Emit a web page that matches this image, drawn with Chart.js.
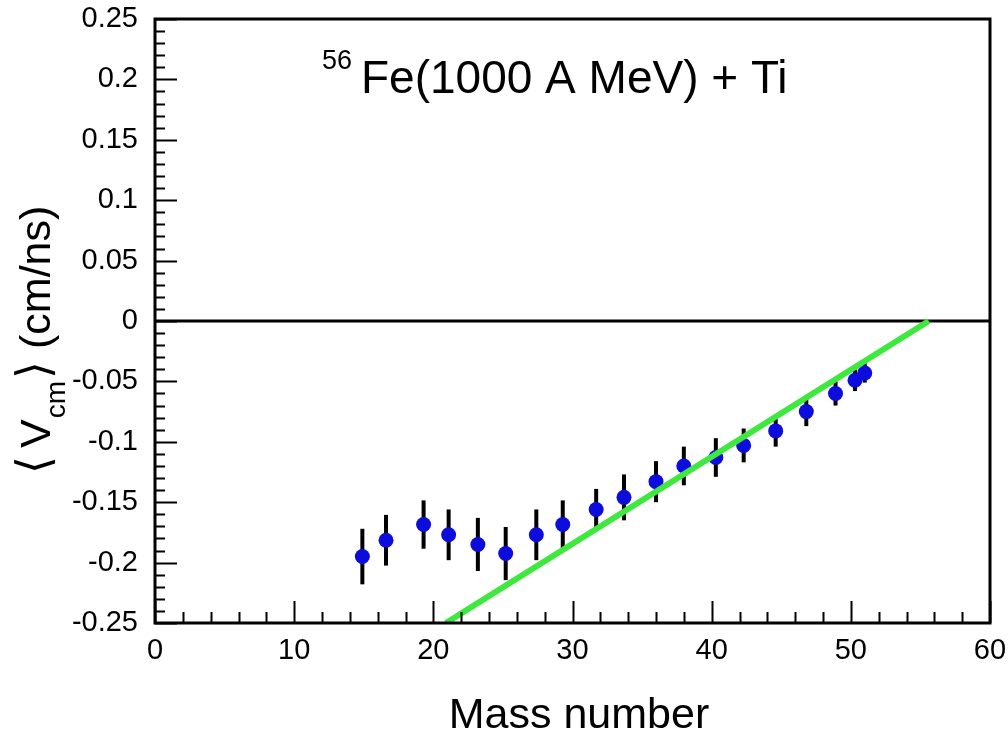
<!DOCTYPE html>
<html>
<head>
<meta charset="utf-8">
<title>Vcm vs mass number</title>
<script src="https://cdn.jsdelivr.net/npm/chart.js@4.4.1/dist/chart.umd.min.js"></script>
<style>
  html, body { margin: 0; padding: 0; background: #fff; }
  #wrap { width: 1008px; height: 739px; position: relative; }
</style>
</head>
<body>
<div id="wrap"><canvas id="vcmChart"></canvas></div>
<script>
// mass numbers (fragments) and mean velocity in the c.m. frame
const massNumber = [14.9, 16.6, 19.3, 21.1, 23.2, 25.2, 27.4, 29.3, 31.7, 33.7, 36.0, 38.0, 40.3, 42.3, 44.6, 46.8, 48.9, 50.3, 51.0];
const vcm = [-0.195, -0.1815, -0.1685, -0.177, -0.185, -0.1925, -0.177, -0.1685, -0.156, -0.146, -0.133, -0.120, -0.113, -0.103, -0.091, -0.075, -0.060, -0.049, -0.043];
const vcmErr = [0.023, 0.021, 0.020, 0.021, 0.022, 0.022, 0.021, 0.020, 0.017, 0.019, 0.017, 0.016, 0.016, 0.014, 0.013, 0.012, 0.010, 0.009, 0.008];

// straight line fit (green) and the zero reference line
const fitX = [20.9, 55.6];
const fitY = [-0.25, 0];
const zeroX = [0, 60];
const zeroY = [0, 0];

// tick values / labels
const xTicks = [0, 10, 20, 30, 40, 50, 60];
const xTickLabels = ['0', '10', '20', '30', '40', '50', '60'];
const yTicks = [-0.25, -0.2, -0.15, -0.1, -0.05, 0, 0.05, 0.1, 0.15, 0.2, 0.25];
const yTickLabels = ['-0.25', '-0.2', '-0.15', '-0.1', '-0.05', '0', '0.05', '0.1', '0.15', '0.2', '0.25'];
const xMinorStep = 2;
const yMinorStep = 0.01;

const FONT = "'Liberation Sans', Arial, Helvetica, sans-serif";

function pairs(xs, ys) {
    return xs.map((x, i) => ({ x: x, y: ys[i] }));
}

// error bars drawn under the markers
const errorBars = {
    id: 'errorBars',
    beforeDatasetsDraw(chart) {
        const ctx = chart.ctx;
        const xs = chart.scales.x, ys = chart.scales.y;
        ctx.save();
        ctx.strokeStyle = '#000';
        ctx.lineWidth = 4;
        massNumber.forEach((m, i) => {
            const px = xs.getPixelForValue(m);
            ctx.beginPath();
            ctx.moveTo(px, ys.getPixelForValue(vcm[i] - vcmErr[i]));
            ctx.lineTo(px, ys.getPixelForValue(vcm[i] + vcmErr[i]));
            ctx.stroke();
        });
        ctx.restore();
    }
};

// ROOT style frame, inner ticks and titles
const rootFrame = {
    id: 'rootFrame',
    afterDraw(chart) {
        const ctx = chart.ctx;
        const a = chart.chartArea;
        const xs = chart.scales.x, ys = chart.scales.y;
        ctx.save();
        ctx.strokeStyle = '#000';

        // ticks inside the frame
        ctx.lineWidth = 2;
        ctx.beginPath();
        for (let v = xs.min; v <= xs.max + 1e-9; v += xMinorStep) {
            const px = Math.round(xs.getPixelForValue(v)) + 0.5;
            const len = xTicks.some(t => Math.abs(t - v) < 1e-6) ? 22 : 11;
            ctx.moveTo(px, a.bottom);
            ctx.lineTo(px, a.bottom - len);
        }
        for (let k = 0; k <= Math.round((ys.max - ys.min) / yMinorStep); k++) {
            const v = ys.min + k * yMinorStep;
            const py = Math.round(ys.getPixelForValue(v)) + 0.5;
            const len = yTicks.some(t => Math.abs(t - v) < 1e-6) ? 22 : 10;
            ctx.moveTo(a.left, py);
            ctx.lineTo(a.left + len, py);
        }
        ctx.stroke();

        // frame
        ctx.lineWidth = 3;
        ctx.strokeRect(a.left, a.top, a.right - a.left, a.bottom - a.top);

        ctx.fillStyle = '#000';
        ctx.textAlign = 'left';
        ctx.textBaseline = 'alphabetic';

        // title inside the pad
        ctx.font = '27px ' + FONT;
        ctx.fillText('56', 322, 69);
        ctx.font = '46px ' + FONT;
        ctx.fillText('Fe(1000 A MeV) + Ti', 361, 93);

        // x title
        ctx.font = '43px ' + FONT;
        ctx.textAlign = 'center';
        ctx.fillText('Mass number', 579, 728);

        // y title, rotated, with subscript
        ctx.textAlign = 'left';
        ctx.translate(50, 474);
        ctx.rotate(-Math.PI / 2);
        let x = 0;
        ctx.font = '46px ' + FONT;
        ctx.fillText('\u27E8', x, -1);
        x += ctx.measureText('\u27E8').width + 8;
        ctx.font = '43px ' + FONT;
        ctx.fillText('V', x, 0);
        x += ctx.measureText('V').width + 1;
        ctx.font = '28px ' + FONT;
        ctx.fillText('cm', x, 15);
        x += ctx.measureText('cm').width + 2;
        ctx.font = '46px ' + FONT;
        ctx.fillText('\u27E9', x, -1);
        x += ctx.measureText('\u27E9').width + 12;
        ctx.font = '43px ' + FONT;
        ctx.fillText('(cm/ns)', x, 0);
        ctx.restore();
    }
};

const ctxEl = document.getElementById('vcmChart');
new Chart(ctxEl, {
    type: 'scatter',
    data: {
        datasets: [
            {
                label: 'fit',
                type: 'line',
                data: pairs(fitX, fitY),
                borderColor: '#3ee83e',
                borderWidth: 6,
                pointRadius: 0,
                fill: false,
                order: 0
            },
            {
                label: 'data',
                data: pairs(massNumber, vcm),
                backgroundColor: '#0c0cdc',
                borderColor: '#0c0cdc',
                pointRadius: 7.5,
                pointBorderWidth: 0,
                order: 1
            },
            {
                label: 'zero',
                type: 'line',
                data: pairs(zeroX, zeroY),
                borderColor: '#000',
                borderWidth: 3,
                pointRadius: 0,
                fill: false,
                order: 2
            }
        ]
    },
    options: {
        responsive: true,
        maintainAspectRatio: false,
        animation: false,
        events: [],
        layout: { padding: { top: 19, right: 18, left: 0, bottom: 0 } },
        plugins: {
            legend: { display: false },
            tooltip: { enabled: false }
        },
        scales: {
            x: {
                type: 'linear',
                min: 0,
                max: 60,
                grid: { display: false },
                border: { display: false },
                afterBuildTicks: s => { s.ticks = xTicks.map(v => ({ value: v })); },
                afterFit: s => { s.height = 116; s.paddingLeft = 0; s.paddingRight = 0; },
                ticks: {
                    color: '#000',
                    padding: 3,
                    font: { family: FONT, size: 29 },
                    callback: (v, i) => xTickLabels[i]
                }
            },
            y: {
                type: 'linear',
                min: -0.25,
                max: 0.25,
                grid: { display: false },
                border: { display: false },
                afterBuildTicks: s => { s.ticks = yTicks.map(v => ({ value: v })); },
                afterFit: s => { s.width = 155; s.paddingTop = 0; s.paddingBottom = 0; },
                ticks: {
                    color: '#000',
                    padding: 9,
                    font: { family: FONT, size: 29 },
                    callback: (v, i) => yTickLabels[i]
                }
            }
        }
    },
    plugins: [errorBars, rootFrame]
});
</script>
</body>
</html>
